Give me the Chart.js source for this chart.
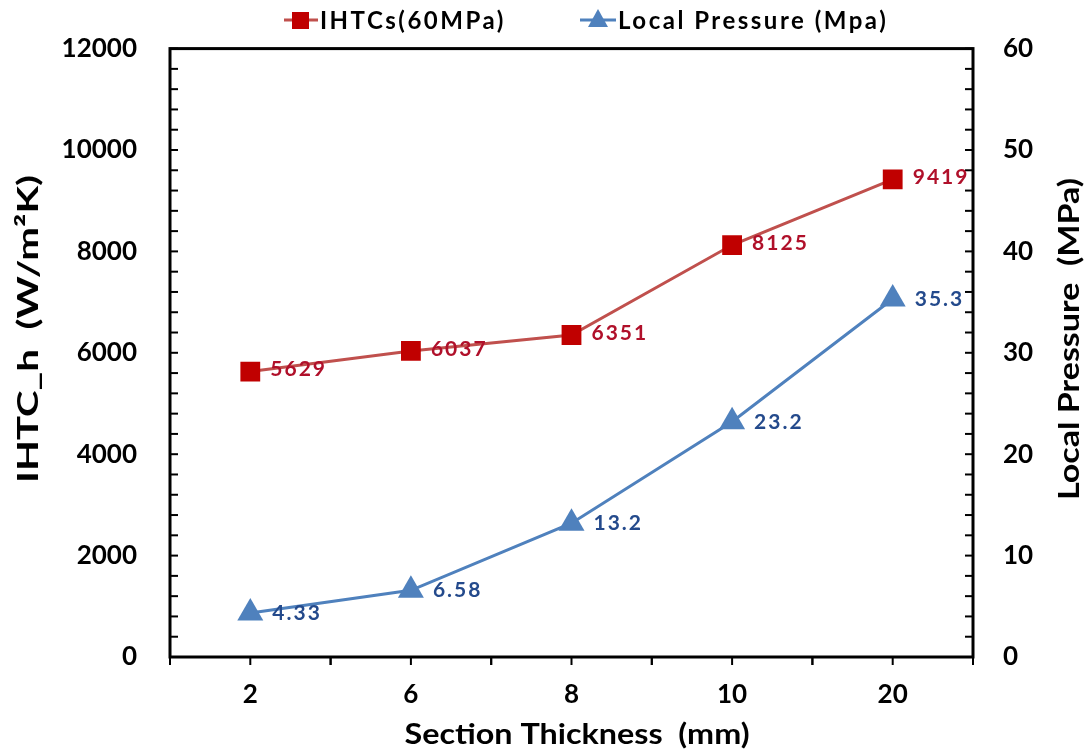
<!DOCTYPE html>
<html>
<head>
<meta charset="utf-8">
<script src="https://cdn.jsdelivr.net/npm/chart.js@4.4.0/dist/chart.umd.min.js"></script>
<style>
  html, body { margin: 0; padding: 0; background: #fff; }
</style>
</head>
<body>
<canvas id="ihtcChart" width="1092" height="751"></canvas>
<script>
// data
var thickness = ['2', '6', '8', '10', '20'];
var ihtcValues = [5629, 6037, 6351, 8125, 9419];
var pressureValues = [4.33, 6.58, 13.2, 23.2, 35.3];
var ihtcLabel = 'IHTCs(60MPa)';
var pressureLabel = 'Local Pressure (Mpa)';
var xTitle = 'Section Thickness  (mm)';
var yTitle = 'IHTC_h  (W/m\u00B2K)';
var y1Title = 'Local Pressure  (MPa)';

var FONT = 'Lato, "Open Sans", sans-serif';
var RED = '#c00000', RED_LINE = '#c0504d', RED_TEXT = '#b0102a';
var BLUE = '#4f81bd', BLUE_TEXT = '#244a8c';

// text squeezed/stretched to a target length, the figure's fonts are wide
function stretchedText(c, text, x, y, angle, targetWidth) {
    var w = c.measureText(text).width;
    c.save();
    c.translate(x, y);
    c.rotate(angle);
    c.scale(targetWidth / w, 1);
    c.fillText(text, 0, 0);
    c.restore();
}

// frame, minor ticks, point labels, axis titles and legend
var decorPlugin = {
    id: 'decor',
    afterDatasetsDraw: function (chart) {
        var c = chart.ctx, a = chart.chartArea;
        var x = chart.scales.x, y = chart.scales.y, y1 = chart.scales.y1;
        c.save();
        c.strokeStyle = '#000';
        c.lineWidth = 2;
        // inward ticks on both value axes
        for (var v = 0; v <= 12000; v += 400) {
            var py = y.getPixelForValue(v);
            c.beginPath(); c.moveTo(a.left, py); c.lineTo(a.left + 8, py); c.stroke();
        }
        for (var w = 0; w <= 60; w += 2) {
            var py1 = y1.getPixelForValue(w);
            c.beginPath(); c.moveTo(a.right, py1); c.lineTo(a.right - 8, py1); c.stroke();
        }
        // outward ticks on category axis, at centres and between categories
        var half = (x.getPixelForValue(1) - x.getPixelForValue(0)) / 2;
        for (var i = 0; i < thickness.length; i++) {
            var cx = x.getPixelForValue(i);
            [cx - half, cx, cx + half].forEach(function (px) {
                c.beginPath(); c.moveTo(px, a.bottom); c.lineTo(px, a.bottom + 8); c.stroke();
            });
        }
        c.lineWidth = 3;
        c.strokeRect(a.left, a.top, a.right - a.left, a.bottom - a.top);

        // value labels
        c.font = 'bold 21px ' + FONT;
        c.letterSpacing = '2px';
        c.textBaseline = 'middle';
        c.textAlign = 'left';
        var meta0 = chart.getDatasetMeta(0), meta1 = chart.getDatasetMeta(1);
        meta0.data.forEach(function (pt, k) {
            c.fillStyle = RED_TEXT;
            c.fillText(String(ihtcValues[k]), pt.x + 20, pt.y - 2);
        });
        meta1.data.forEach(function (pt, k) {
            c.fillStyle = BLUE_TEXT;
            c.fillText(String(pressureValues[k]), pt.x + 22, pt.y);
        });

        // legend
        c.font = 'bold 24px ' + FONT;
        c.letterSpacing = '2.5px';
        c.lineWidth = 3;
        c.strokeStyle = RED_LINE;
        c.beginPath(); c.moveTo(284, 20); c.lineTo(318, 20); c.stroke();
        c.fillStyle = RED;
        c.fillRect(292, 12, 17, 17);
        c.fillStyle = '#000';
        c.fillText(ihtcLabel, 320, 21);
        c.strokeStyle = BLUE;
        c.beginPath(); c.moveTo(580, 20); c.lineTo(616, 20); c.stroke();
        c.fillStyle = BLUE;
        c.beginPath(); c.moveTo(598, 9); c.lineTo(608, 27); c.lineTo(588, 27); c.closePath(); c.fill();
        c.fillStyle = '#000';
        c.fillText(pressureLabel, 618, 21);

        // axis titles
        c.letterSpacing = '0px';
        c.font = 'bold 29px ' + FONT;
        c.textAlign = 'center';
        c.fillStyle = '#000';
        stretchedText(c, xTitle, 577, 735, 0, 345);
        stretchedText(c, yTitle, 29, 329, -Math.PI / 2, 308);
        stretchedText(c, y1Title, 1070, 339, -Math.PI / 2, 322);
        c.restore();
    }
};

var tickFont = { family: FONT, size: 26, weight: 'bold' };

var ctx = document.getElementById('ihtcChart').getContext('2d');
var ihtcChart = new Chart(ctx, {
    type: 'line',
    data: {
        labels: thickness,
        datasets: [{
            label: ihtcLabel,
            data: ihtcValues,
            yAxisID: 'y',
            borderColor: RED_LINE,
            borderWidth: 3,
            pointStyle: 'rect',
            pointRadius: 14,
            pointBackgroundColor: RED,
            pointBorderColor: RED,
            pointBorderWidth: 0,
            tension: 0
        }, {
            label: pressureLabel,
            data: pressureValues,
            yAxisID: 'y1',
            borderColor: BLUE,
            borderWidth: 3,
            pointStyle: 'triangle',
            pointRadius: 15,
            pointBackgroundColor: BLUE,
            pointBorderColor: BLUE,
            pointBorderWidth: 0,
            tension: 0
        }]
    },
    options: {
        responsive: false,
        animation: false,
        layout: { padding: { top: 45, left: 0, right: 0, bottom: 0 } },
        plugins: {
            legend: { display: false },
            tooltip: { enabled: false }
        },
        scales: {
            x: {
                offset: true,
                grid: { display: false, drawTicks: false },
                border: { display: false },
                ticks: { color: '#000', padding: 22, font: tickFont },
                afterFit: function (scale) { scale.height = 94; }
            },
            y: {
                position: 'left',
                min: 0,
                max: 12000,
                grid: { display: false, drawTicks: false },
                border: { display: false },
                ticks: {
                    stepSize: 2000, color: '#000', padding: 33, font: tickFont,
                    callback: function (value) { return String(value); }
                },
                afterFit: function (scale) { scale.width = 170; }
            },
            y1: {
                position: 'right',
                min: 0,
                max: 60,
                grid: { display: false, drawTicks: false },
                border: { display: false },
                ticks: { stepSize: 10, color: '#000', padding: 30, font: tickFont },
                afterFit: function (scale) { scale.width = 119; }
            }
        }
    },
    plugins: [decorPlugin]
});
</script>
</body>
</html>
